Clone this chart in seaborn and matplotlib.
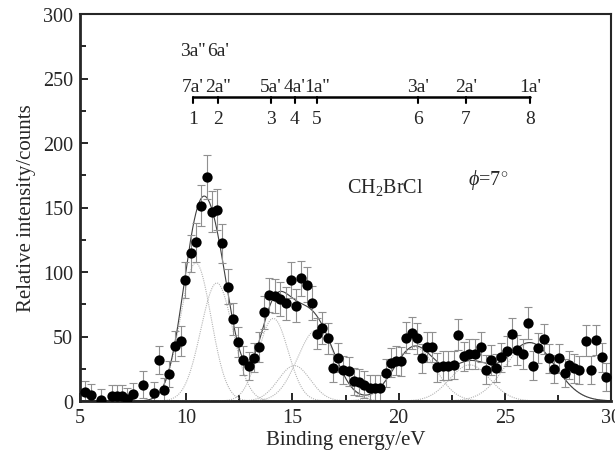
import numpy as np
import pandas as pd
import seaborn as sns
from matplotlib import pyplot as plt
from matplotlib.ticker import MultipleLocator

# measured points (binding energy / eV, counts, error)
energy = [5.24, 5.50, 6.00, 6.49, 6.76, 7.00, 7.20, 7.48, 7.98, 8.48,
          8.72, 8.97, 9.20, 9.47, 9.74, 9.96, 10.21, 10.45, 10.70, 10.96,
          11.20, 11.46, 11.70, 11.95, 12.19, 12.45, 12.69, 12.96, 13.19, 13.44,
          13.68, 13.91, 14.18, 14.43, 14.68, 14.92, 15.17, 15.42, 15.67, 15.92,
          16.16, 16.41, 16.66, 16.90, 17.13, 17.40, 17.66, 17.90, 18.15, 18.39,
          18.65, 18.89, 19.12, 19.39, 19.63, 19.88, 20.11, 20.35, 20.61, 20.85,
          21.09, 21.32, 21.59, 21.82, 22.08, 22.34, 22.61, 22.81, 23.09, 23.33,
          23.60, 23.87, 24.10, 24.35, 24.59, 24.84, 25.09, 25.34, 25.59, 25.84,
          26.09, 26.34, 26.58, 26.83, 27.08, 27.32, 27.57, 27.82, 28.04, 28.28,
          28.51, 28.83, 29.06, 29.30, 29.56, 29.76]
counts = [6.7, 4.6, 1.0, 3.6, 4.0, 3.6, 1.5, 5.4, 12.7, 6.0,
          31.8, 8.8, 20.9, 42.6, 46.5, 94.0, 114.5, 123.0, 151.4, 173.9,
          146.8, 148.3, 122.2, 88.6, 63.3, 45.7, 31.5, 27.1, 33.6, 42.1,
          68.8, 82.2, 81.2, 79.1, 75.7, 93.8, 73.9, 95.1, 90.2, 76.0,
          52.2, 56.6, 48.6, 25.8, 33.6, 24.0, 23.0, 15.3, 14.5, 12.6,
          9.8, 9.8, 9.8, 21.5, 29.5, 31.3, 30.8, 49.1, 52.7, 48.6,
          33.1, 41.9, 42.1, 26.1, 27.4, 27.4, 27.9, 51.4, 34.7, 36.4,
          36.4, 41.6, 24.3, 31.8, 25.8, 33.9, 39.0, 51.9, 39.8, 36.4,
          60.5, 27.4, 41.1, 48.1, 33.1, 24.8, 33.1, 21.5, 27.9, 25.3,
          24.0, 46.7, 24.0, 47.3, 33.9, 18.4]
errors = [8.5, 8.5, 8.5, 8.5, 8.5, 8.5, 8.5, 8.5, 10.5, 8.5,
          11.0, 9.0, 10.0, 11.5, 11.5, 13.8, 14.5, 15.0, 16.0, 17.0,
          16.0, 16.0, 15.0, 13.5, 12.5, 11.8, 11.2, 11.0, 11.3, 11.7,
          12.7, 13.3, 13.2, 13.1, 13.0, 13.8, 13.0, 13.8, 13.6, 13.0,
          12.1, 12.3, 12.0, 11.0, 11.3, 11.0, 11.0, 10.6, 10.6, 10.5,
          10.4, 10.4, 10.4, 10.9, 11.2, 11.3, 11.2, 12.0, 12.1, 12.0,
          11.3, 11.7, 11.7, 11.1, 11.1, 11.1, 11.1, 12.1, 11.4, 11.5,
          11.5, 11.7, 11.0, 11.3, 11.0, 11.4, 11.6, 12.1, 11.6, 11.5,
          12.4, 11.1, 11.6, 11.9, 11.3, 11.0, 11.3, 10.9, 11.1, 11.0,
          11.0, 11.9, 11.0, 11.9, 11.4, 10.7]

# fitted gaussian components: centre, height, sigma
peak_centre = [10.45, 11.44, 14.10, 15.09, 16.14, 20.75, 23.35, 26.20]
peak_height = [107.0, 91.5, 64.0, 27.4, 55.0, 42.0, 28.0, 45.0]
peak_sigma = [0.72, 0.75, 0.70, 0.75, 0.90, 0.97, 0.95, 1.16]

# orbital assignment bar
bar_pos = [10.32, 11.48, 13.98, 15.12, 16.14, 20.90, 23.16, 26.19]
bar_num = ['1', '2', '3', '4', '5', '6', '7', '8']
orbital_low = ["7a'", "2a''", "5a'", "4a'", "1a''", "3a'", "2a'", "1a'"]
orbital_high = ["3a''", "6a'", '', '', '', '', '', '']

sns.set_style('ticks')
plt.rcParams['font.family'] = ['Liberation Serif', 'DejaVu Serif']
plt.rcParams['mathtext.fontset'] = 'custom'
plt.rcParams['mathtext.rm'] = 'Liberation Serif'
plt.rcParams['mathtext.it'] = 'Liberation Serif:italic'

fig = plt.figure(figsize=(6.15, 4.56), dpi=100)
ax = fig.add_axes([80 / 615, 54 / 456, 531 / 615, 387 / 456])

grid = np.linspace(5, 30, 1000)
comps = pd.DataFrame({'x': grid})
total = np.zeros_like(grid)
for i, (c, h, s) in enumerate(zip(peak_centre, peak_height, peak_sigma)):
    comps[f'p{i}'] = h * np.exp(-(grid - c) ** 2 / (2 * s ** 2))
    total += comps[f'p{i}']
    sns.lineplot(data=comps, x='x', y=f'p{i}', ax=ax, color='#b4b4b4',
                 lw=0.8, linestyle=(0, (1, 1)))
comps['total'] = total
sns.lineplot(data=comps, x='x', y='total', ax=ax, color='#404040', lw=0.8)

pts = pd.DataFrame({'energy': energy, 'counts': counts, 'err': errors})
ax.errorbar(pts['energy'], pts['counts'], yerr=pts['err'], fmt='none',
            ecolor='#909090', elinewidth=0.8, capsize=2.8, capthick=0.8)
sns.scatterplot(data=pts, x='energy', y='counts', ax=ax, color='black',
                s=55, edgecolor='black', linewidth=0, zorder=5)

# assignment bar
ax.plot([bar_pos[0], bar_pos[-1]], [236, 236], color='black', lw=1.8)
for p, n, lo, hi in zip(bar_pos, bar_num, orbital_low, orbital_high):
    ax.plot([p, p], [236, 231], color='black', lw=1.5)
    ax.text(p, 215.5, n, ha='center', va='baseline', fontsize=14)
    ax.text(p, 240, lo, ha='center', va='baseline', fontsize=14)
    if hi:
        ax.text(p, 268, hi, ha='center', va='baseline', fontsize=14)

ax.text(17.57, 162, r'CH$_2$BrCl', ha='left', va='baseline', fontsize=14.5)
ax.text(23.27, 168, r'$\it{\phi}$=7$^{\circ}$', ha='left', va='baseline',
        fontsize=14.5)

ax.set_xlim(5, 30)
ax.set_ylim(0, 300)
ax.xaxis.set_major_locator(MultipleLocator(5))
ax.xaxis.set_minor_locator(MultipleLocator(2.5))
ax.yaxis.set_major_locator(MultipleLocator(50))
ax.yaxis.set_minor_locator(MultipleLocator(25))
ax.tick_params(which='both', direction='in', top=False, right=False,
               labelsize=14.5, width=1.4)
ax.tick_params(which='major', length=6, pad=5)
ax.tick_params(which='minor', length=4)
for side in ['left', 'bottom']:
    ax.spines[side].set_linewidth(2)
for side in ['top', 'right']:
    ax.spines[side].set_linewidth(1.5)
ax.set_xlabel('Binding energy/eV', fontsize=15, labelpad=2)
ax.set_ylabel('Relative intensity/counts', fontsize=15, labelpad=5)

plt.savefig('out.png', dpi=100)
